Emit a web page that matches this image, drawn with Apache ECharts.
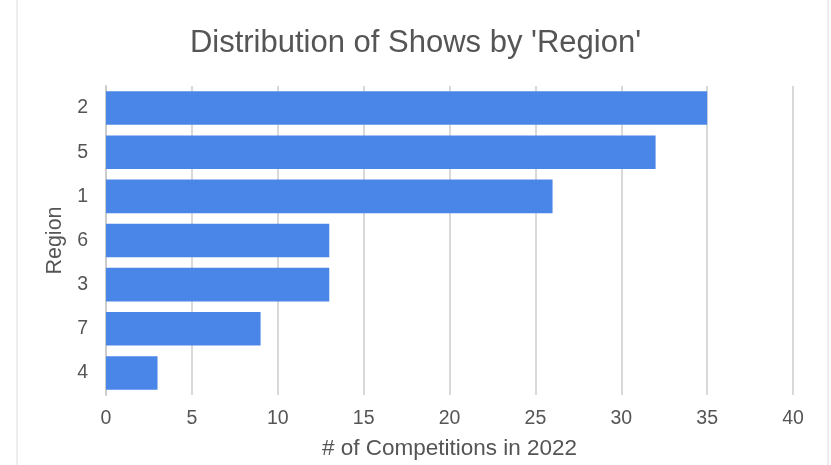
<!DOCTYPE html>
<html>
<head>
<meta charset="utf-8">
<script src="https://cdn.jsdelivr.net/npm/echarts@6/dist/echarts.min.js"></script>
<style>html,body{margin:0;padding:0;background:#fff;}#c{width:831px;height:465px;}</style>
</head>
<body>
<div id="c"></div>
<script>
const categories = ['2', '5', '1', '6', '3', '7', '4'];
const counts = [35, 32, 26, 13, 13, 9, 3];
const xTicks = [0, 5, 10, 15, 20, 25, 30, 35, 40];

const chart = echarts.init(document.getElementById('c'), null, {renderer: 'canvas'});
const font = 'Liberation Sans, Arial, sans-serif';
chart.setOption({
  backgroundColor: '#ffffff',
  animation: false,
  title: {
    text: "Distribution of Shows by 'Region'",
    left: 'center',
    top: 23,
    textStyle: {fontFamily: font, fontSize: 31, fontWeight: 'normal', color: '#555555'}
  },
  grid: {left: 106, right: 38, top: 86, bottom: 68.5, containLabel: false},
  xAxis: {
    type: 'value',
    min: xTicks[0],
    max: xTicks[xTicks.length - 1],
    interval: 5,
    name: '# of Competitions in 2022',
    nameLocation: 'middle',
    nameGap: 42,
    nameTextStyle: {fontFamily: font, fontSize: 22.5, color: '#555555'},
    axisLine: {show: false},
    axisTick: {show: false},
    axisLabel: {fontFamily: font, fontSize: 19.5, color: '#555555', margin: 14},
    splitLine: {show: true, lineStyle: {color: '#d9d9d9', width: 2}}
  },
  yAxis: {
    type: 'category',
    data: categories,
    inverse: true,
    name: 'Region',
    nameLocation: 'middle',
    nameGap: 40,
    nameTextStyle: {fontFamily: font, fontSize: 21.5, color: '#555555'},
    axisLine: {show: true, lineStyle: {color: '#cccccc', width: 2}},
    axisTick: {show: false},
    axisLabel: {fontFamily: font, fontSize: 19.5, color: '#555555', margin: 18},
    splitLine: {show: false}
  },
  series: [{
    type: 'bar',
    data: counts,
    barCategoryGap: '24%',
    itemStyle: {color: '#4a86e8'}
  }],
  graphic: [
    {type: 'line', shape: {x1: 17, y1: 0, x2: 17, y2: 465}, style: {stroke: '#dddddd', lineWidth: 1}},
    {type: 'line', shape: {x1: 828, y1: 0, x2: 828, y2: 465}, style: {stroke: '#dddddd', lineWidth: 1}}
  ]
});
</script>
</body>
</html>
